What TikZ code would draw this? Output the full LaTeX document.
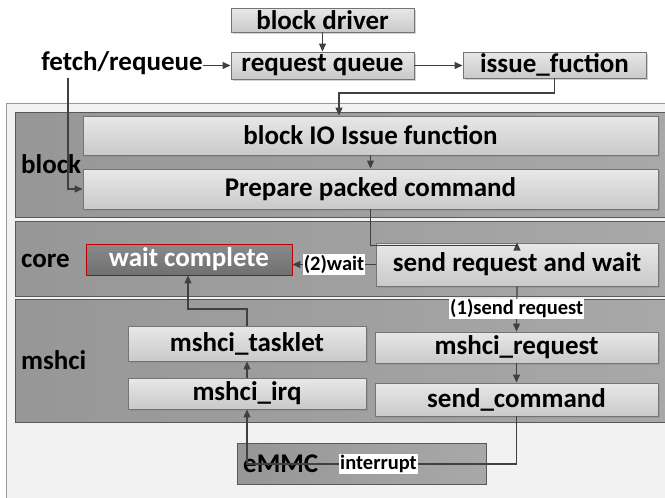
\documentclass[tikz,border=0pt]{standalone}
\usepackage{fontspec}
\setmainfont{Carlito}
\usetikzlibrary{arrows.meta,shadows}
\definecolor{linec}{HTML}{404040}
\definecolor{framec}{HTML}{9A9A9A}
\definecolor{framefill}{HTML}{F2F2F2}
\definecolor{layerborder}{HTML}{595959}
\definecolor{boxborder}{HTML}{747474}
\definecolor{redc}{HTML}{C00000}
\newcommand\myfontbig{\fontsize{27}{30}\selectfont\bfseries}
\newcommand\myfontsmall{\fontsize{20.5}{23}\selectfont\bfseries}
\begin{document}
\begin{tikzpicture}[x=1pt,y=-1pt,
  every node/.style={font=\myfontbig},
  frame/.style={draw=framec, fill=framefill, line width=1pt, inner sep=0pt},
  layer/.style={draw=layerborder, left color=black!41, right color=black!34, line width=1pt, inner sep=0pt},
  box/.style={draw=boxborder, top color=black!9, bottom color=black!21, inner sep=0pt, line width=0.9pt,
    drop shadow={shadow xshift=1.5pt, shadow yshift=-1.5pt, opacity=0.35}},
  darkbox/.style={draw=redc, top color=black!46, bottom color=black!56, text=white, inner sep=0pt, line width=0.9pt},
  arr/.style={draw=linec, line width=1.2pt, -{Triangle[length=8pt,width=7pt]}},
  lbl/.style={fill=white, inner sep=1pt, font=\myfontsmall, text=black},
  lay/.style={anchor=base west, inner sep=0pt}
]
\useasboundingbox (0,0) rectangle (665,498);

% containers
\node[frame, minimum width=674pt, minimum height=417pt] (outer) at (343,311.5) {};
\node[layer, minimum width=657pt, minimum height=105pt] (lblock) at (343.5,164.5) {};
\node[layer, minimum width=657pt, minimum height=75pt] (lcore) at (343.5,258.5) {};
\node[layer, minimum width=657pt, minimum height=123pt] (lmshci) at (343.5,360.5) {};
\node[layer, minimum width=249pt, minimum height=41pt] (emmc) at (361.5,463.5) {};

% layer labels
\node[lay] (tblock) at (21,173) {block};
\node[lay] (tcore) at (21,267) {core};
\node[lay] (tmshci) at (21,369) {mshci};
\node[lay] (temmc) at (243,472) {eMMC};

% top boxes
\node[box, minimum width=183pt, minimum height=24pt] (drv) at (322.5,20) {block driver};
\node[box, minimum width=183pt, minimum height=27pt] (rq) at (322.5,65.5) {request queue};
\node[box, minimum width=183pt, minimum height=26pt] (iss) at (554.5,65) {issue\_fuction};
\node[anchor=base, inner sep=0pt] (fetch) at (122,70) {fetch/requeue};

% block layer
\node[box, minimum width=575pt, minimum height=39pt] (bio) at (370.5,135.5) {block IO Issue function};
\node[box, minimum width=575pt, minimum height=40pt] (prep) at (370.5,189) {Prepare packed command};

% core layer
\node[darkbox, minimum width=206pt, minimum height=31pt] (wait) at (189,259.5) {wait complete};
\node[box, minimum width=282pt, minimum height=43pt] (srw) at (517,264.5) {send request and wait};

% mshci layer
\node[box, minimum width=238pt, minimum height=35pt] (task) at (247,343.5) {mshci\_tasklet};
\node[box, minimum width=238pt, minimum height=31pt] (irq) at (247,393.5) {mshci\_irq};
\node[box, minimum width=283pt, minimum height=31pt] (mreq) at (516.5,347.5) {mshci\_request};
\node[box, minimum width=283pt, minimum height=33pt] (scmd) at (516.5,399.5) {send\_command};

% connectors
\coordinate (k1) at (339,93);
\coordinate (f0) at (68,78);
\coordinate (k3) at (247,464);
\coordinate (k4) at (188,309);

\draw[arr] (drv.south) -- (rq.north);
\draw[arr] (fetch.east |- rq.west) -- (rq.west);
\draw[arr] (rq.east) -- (rq.east -| iss.west);
\draw[arr] (iss.south) |- (k1) -- (k1 |- bio.north);
\draw[arr] (f0) |- (prep.west);
\draw[arr] (bio.south) -- (prep.north);
\draw[arr] (prep.south) -- ++(0,36) -| (srw.north);
\draw[arr] (srw.west) -- node[lbl] (l2) {(2)wait} (srw.west -| wait.east);
\draw[arr] (srw.south) -- node[lbl] (l1) {(1)send request} (mreq.north);
\draw[arr] (mreq.south) -- (scmd.north);
\draw[arr] (scmd.south) |- node[lbl, pos=0.756] (lint) {interrupt} (k3) -- (irq.south);
\draw[arr] (irq.north) -- (task.south);
\draw[arr] (task.north) |- (k4) -- (k4 |- wait.south);
\end{tikzpicture}
\end{document}
